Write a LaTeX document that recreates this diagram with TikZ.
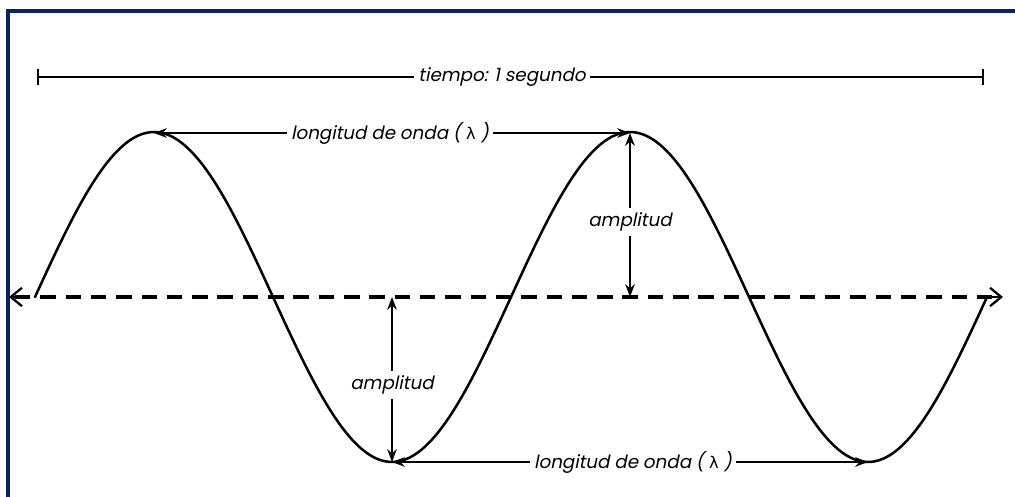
\documentclass[tikz,border=0pt]{standalone}
\usepackage{amsmath,amssymb}
\usepackage{xcolor}
\usepackage{fontspec}
\newfontfamily\wavefont[FakeSlant=0.2]{Poppins}
\newfontfamily\greekfont{DejaVu Sans}
\usepackage{tikz}
\usetikzlibrary{positioning,arrows.meta,calc}
\definecolor{framblue}{RGB}{10,35,100}
\newcommand{\lam}{{\greekfont\fontsize{11.5}{13}\selectfont λ}}
\tikzset{
  lbl/.style={font=\wavefont\fontsize{13}{15}\selectfont, fill=white, inner sep=3pt},
  arr/.style={-{Stealth[length=3.2mm,width=2.4mm]}, line width=1.3pt},
  wave/.style={line width=1.8pt, line cap=round},
  axisline/.style={line width=2.2pt, dash pattern=on 11pt off 7pt},
  axistip/.style={-{Straight Barb[length=2.8mm,width=4.6mm]}, line width=1.6pt},
  timebar/.style={line width=1.4pt},
}

\begin{document}
\begin{tikzpicture}[x=0.025cm,y=-0.025cm]
    \useasboundingbox (0,0) rectangle (1015,497);
    % frame
    \draw[framblue, line width=2.2pt] (8,510) -- (8,11) -- (1030,11);
    % reference points
    \coordinate (tl) at (38,77);
    \coordinate (tr) at (983,77);
    \coordinate (axl) at (9,297);
    \coordinate (axr) at (1003,297);
    \coordinate (peak1) at (154,133);
    \coordinate (peak2) at (630,133);
    \coordinate (trough1) at (392,462);
    \coordinate (trough2) at (868,462);
    \coordinate (zero2) at (630,297);
    \coordinate (zero1) at (392,297);
    % axis and wave
    \draw[axisline] ($(axl)+(6,0)$) -- ($(axr)+(-6,0)$);
    \draw[axistip] ($(axl)+(16,0)$) -- (axl);
    \draw[axistip] ($(axr)+(-16,0)$) -- (axr);
    \draw[wave] plot[domain=35:987, samples=240, smooth] (\x, {297-165*sin((\x-35)/476*360)});
    % time
    \node[lbl] (time) at (502,77) {tiempo: 1 segundo};
    \draw[timebar] ($(tl)+(0,-8)$) -- ($(tl)+(0,8)$);
    \draw[timebar] ($(tr)+(0,-8)$) -- ($(tr)+(0,8)$);
    \draw[timebar] (tl) -- (time.west);
    \draw[timebar] (time.east) -- (tr);
    % wavelength
    \node[lbl] (lamtop) at (390,133) {longitud de onda ( \lam\ )};
    \draw[arr] (lamtop) -- (peak1);
    \draw[arr] (lamtop) -- (peak2);
    \node[lbl] (lambot) at (633,462) {longitud de onda ( \lam\ )};
    \draw[arr] (lambot) -- (trough1);
    \draw[arr] (lambot) -- (trough2);
    % amplitude
    \node[lbl] (ampr) at (630,222) {amplitud};
    \draw[arr] (ampr) -- (peak2);
    \draw[arr] (ampr) -- (zero2);
    \node[lbl] (ampl) at (392,385) {amplitud};
    \draw[arr] (ampl) -- (zero1);
    \draw[arr] (ampl) -- (trough1);
\end{tikzpicture}
\end{document}
